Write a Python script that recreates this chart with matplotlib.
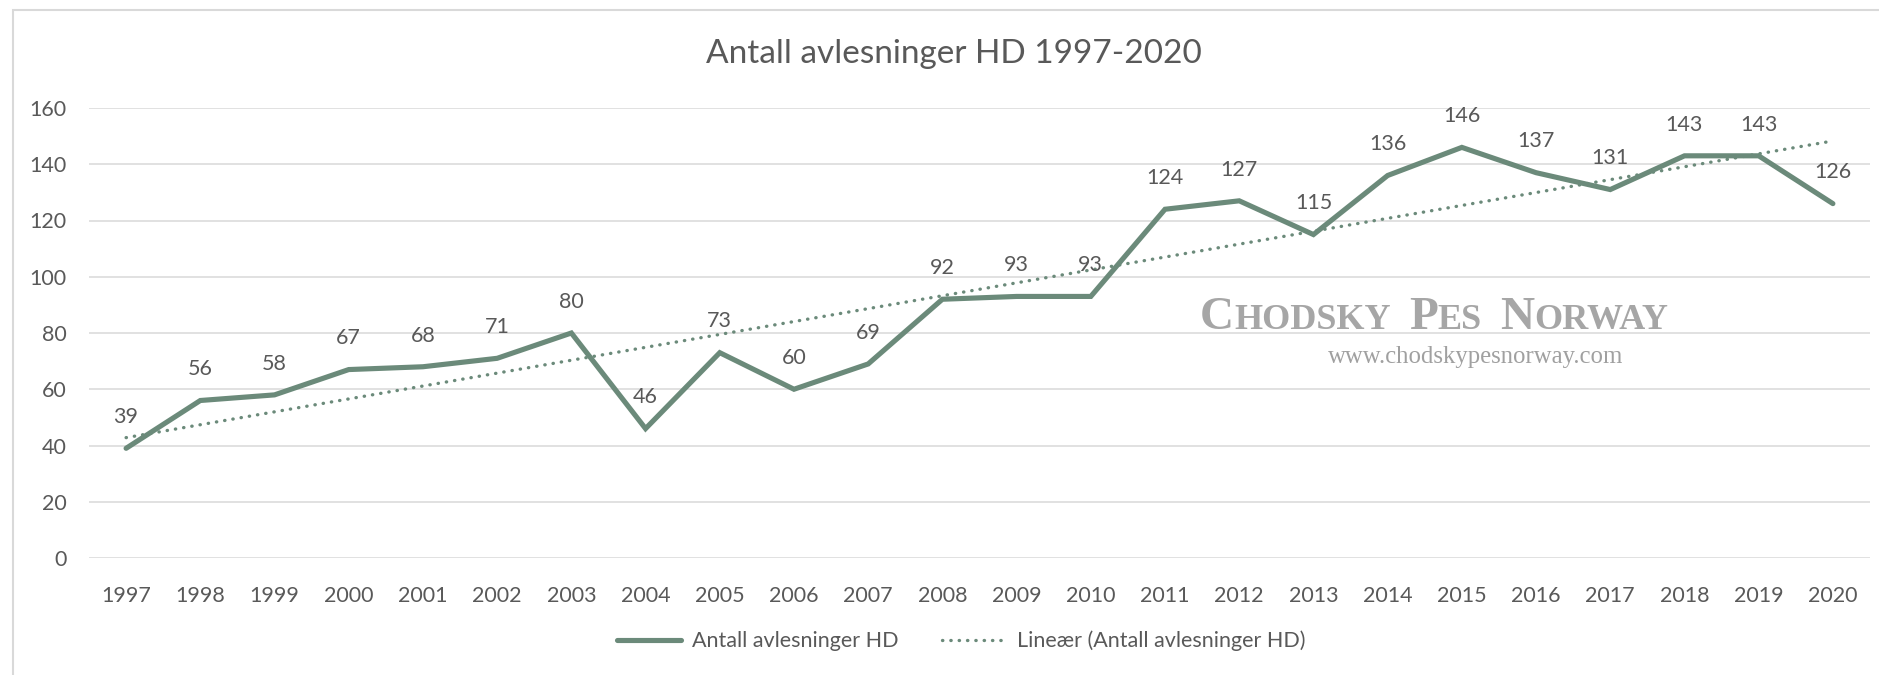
import matplotlib.pyplot as plt
import matplotlib.patches as mpatches
from matplotlib.offsetbox import TextArea, HPacker, AnnotationBbox
import numpy as np

years = [str(y) for y in range(1997, 2021)]
values = [39, 56, 58, 67, 68, 71, 80, 46, 73, 60, 69, 92,
          93, 93, 124, 127, 115, 136, 146, 137, 131, 143, 143, 126]
series_name = 'Antall avlesninger HD'
trend_name = 'Lineær (Antall avlesninger HD)'
title = 'Antall avlesninger HD 1997-2020'

plt.rcParams['font.family'] = ['Lato', 'DejaVu Sans']
text_col = '#595959'
line_col = '#6B8A7A'
grid_col = '#D9D9D9'

W, H = 1879, 675
fig = plt.figure(figsize=(W / 100, H / 100), dpi=100)
ax = fig.add_axes([89 / W, 1 - 558 / H, (1870 - 89) / W, (558 - 108) / H])

x = np.arange(len(values))
ax.plot(x, values, color=line_col, lw=3.7, solid_capstyle='round',
        solid_joinstyle='miter', zorder=3, label=series_name)

# Excel-style linear trend line
k, b = np.polyfit(x + 1, values, 1)
ax.plot(x, k * (x + 1) + b, color=line_col, lw=2.4,
        linestyle=(0, (0.1, 2.4)), dash_capstyle='round', zorder=2,
        label=trend_name)

for xi, v in zip(x, values):
    ax.annotate(str(v), (xi, v), xytext=(0, 22.5), textcoords='offset points',
                ha='center', va='center', fontsize=15.5, color=text_col)

ax.set_xlim(-0.5, len(values) - 0.5)
ax.set_ylim(0, 160)
ax.set_yticks(range(0, 161, 20))
ax.set_xticks(x)
ax.set_xticklabels(years)
ax.tick_params(axis='both', length=0, labelsize=15.5, labelcolor=text_col)
ax.tick_params(axis='y', pad=16)
ax.tick_params(axis='x', pad=20)
ax.grid(axis='y', color=grid_col, lw=1.1)
ax.set_axisbelow(True)
for s in ax.spines.values():
    s.set_visible(False)

fig.text(954 / W, 1 - 54 / H, title, ha='center', va='center',
         fontsize=24, color=text_col)

fig.legend(loc='center', bbox_to_anchor=(961 / W, 1 - 641 / H), ncol=2,
           frameon=False, fontsize=15.5, labelcolor=text_col,
           handlelength=3.0, handletextpad=0.5, columnspacing=2.0)

# chart area border (cut off at right and bottom)
fig.patches.append(mpatches.Rectangle((13 / W, -0.1), 1.2, 1.1 - 9.5 / H,
                                      transform=fig.transFigure, fill=False,
                                      edgecolor=grid_col, lw=1.5))

# watermark
wm_col = '#A6A6A6'
big = dict(fontsize=34, color=wm_col, family='Liberation Serif', weight='bold')
small = dict(fontsize=26, color=wm_col, family='Liberation Serif', weight='bold')
parts = []
for i, word in enumerate(['CHODSKY', 'PES', 'NORWAY']):
    parts.append(TextArea(word[0], textprops=big))
    parts.append(TextArea(word[1:], textprops=small))
    if i < 2:
        parts.append(TextArea('  ', textprops=small))
pack = HPacker(children=parts, align='baseline', pad=0, sep=0)
fig.add_artist(AnnotationBbox(pack, (1434 / W, 1 - 318 / H),
                              xycoords='figure fraction', frameon=False,
                              box_alignment=(0.5, 0.5)))
fig.text(1476 / W, 1 - 357 / H, 'www.chodskypesnorway.com', ha='center',
         va='center', fontsize=17.8, color='#A0A0A0', family='Liberation Serif')

plt.savefig('out.png', dpi=100)
plt.close()
